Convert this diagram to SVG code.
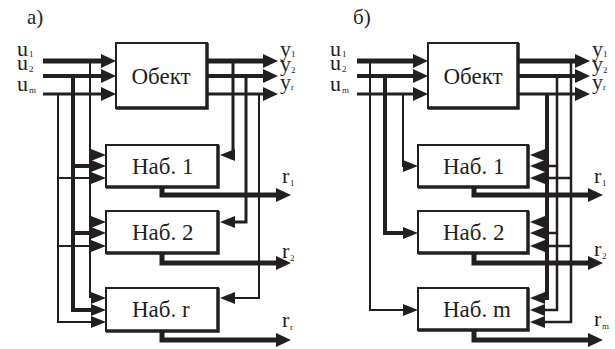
<svg xmlns="http://www.w3.org/2000/svg" width="615" height="349" viewBox="0 0 615 349">
<style>
.ln{fill:none;stroke:#231f20;stroke-linejoin:miter;stroke-linecap:butt}
.box{fill:#fff;stroke:#231f20;stroke-width:2}
.sh{fill:none;stroke:#231f20;stroke-width:3.5}
.ah{fill:#231f20}
text{font-family:'Liberation Serif','Times New Roman',serif;fill:#231f20}
.bt{font-size:23px}
.lb{font-size:22px}
.sb{font-size:9px}
.hd{font-size:21px}
</style>
<defs>
<path id="ar" class="ah" d="M0,0 L-15,-7 L-15,7 Z"/>
<path id="sr" class="ah" d="M0,0 L-15,-6 L-15,6 Z"/>
<path id="sl" class="ah" d="M0,0 L15,-6 L15,6 Z"/>
</defs>

<!-- ===== Diagram a ===== -->
<text id="a-title" class="hd" x="27" y="24">а)</text>

<g id="a-connectors">
  <path class="ln" stroke-width="5" d="M43,61 H102"/>
  <path class="ln" stroke-width="4" d="M43,76 H102"/>
  <path class="ln" stroke-width="3" d="M43,94 H102"/>
  <use href="#ar" x="116" y="61"/><use href="#ar" x="116" y="76"/><use href="#ar" x="116" y="94"/>
  <path class="ln" stroke-width="5" d="M207,61 H264"/>
  <path class="ln" stroke-width="4" d="M207,76 H264"/>
  <path class="ln" stroke-width="3" d="M207,94 H264"/>
  <use href="#ar" x="278" y="61"/><use href="#ar" x="278" y="76"/><use href="#ar" x="278" y="94"/>
  <path class="ln" stroke-width="2" d="M90,61 V298"/>
  <path class="ln" stroke-width="4" d="M73,76 V310 H92 M73,166 H92 M73,233 H92"/>
  <path class="ln" stroke-width="2" d="M58,94 V322 H92 M58,178 H92 M58,246 H92"/>
  <use href="#sr" x="106" y="155"/><use href="#sr" x="106" y="166"/><use href="#sr" x="106" y="178"/>
  <use href="#sr" x="106" y="222"/><use href="#sr" x="106" y="233"/><use href="#sr" x="106" y="246"/>
  <use href="#sr" x="106" y="298"/><use href="#sr" x="106" y="310"/><use href="#sr" x="106" y="322"/>
  <path class="ln" stroke-width="3" d="M233,61 V155 H234"/>
  <path class="ln" stroke-width="3" d="M246,76 V222 H234"/>
  <path class="ln" stroke-width="2" d="M259,94 V298 H234"/>
  <use href="#sl" x="220" y="155"/><use href="#sl" x="220" y="222"/><use href="#sl" x="220" y="298"/>
  <path class="ln" stroke-width="5" d="M162,187 V195 H277"/>
  <path class="ln" stroke-width="5" d="M162,253 V263 H277"/>
  <path class="ln" stroke-width="5" d="M162,331 V340 H277"/>
  <use href="#ar" x="291" y="195"/><use href="#ar" x="291" y="263"/><use href="#ar" x="291" y="340"/>
</g>

<g id="a-object">
  <rect class="box" x="116" y="43" width="91" height="65"/>
  <path class="sh" d="M207,43 V108 H116"/>
  <text class="bt" x="161" y="84" text-anchor="middle">Обект</text>
</g>
<g id="a-nab1">
  <rect class="box" x="106" y="145" width="112" height="42"/>
  <path class="sh" d="M218,145 V187 H106"/>
  <text class="bt" x="132" y="174">Наб. 1</text>
</g>
<g id="a-nab2">
  <rect class="box" x="106" y="211" width="112" height="42"/>
  <path class="sh" d="M218,211 V253 H106"/>
  <text class="bt" x="132" y="240">Наб. 2</text>
</g>
<g id="a-nabr">
  <rect class="box" x="106" y="288" width="112" height="43"/>
  <path class="sh" d="M218,288 V331 H106"/>
  <text class="bt" x="132" y="317">Наб. r</text>
</g>

<g id="a-labels">
  <text class="lb" x="17" y="56">u</text><text class="sb" x="29" y="57">1</text>
  <text class="lb" x="17" y="70">u</text><text class="sb" x="29" y="72">2</text>
  <text class="lb" x="17" y="91">u</text><text class="sb" x="29" y="93">m</text>
  <text class="lb" x="280" y="56">y</text><text class="sb" x="291" y="57">1</text>
  <text class="lb" x="280" y="71">y</text><text class="sb" x="291" y="73">2</text>
  <text class="lb" x="280" y="89">y</text><text class="sb" x="291" y="90">r</text>
  <text class="lb" x="282" y="183">r</text><text class="sb" x="290" y="186">1</text>
  <text class="lb" x="282" y="258">r</text><text class="sb" x="290" y="261">2</text>
  <text class="lb" x="282" y="327">r</text><text class="sb" x="290" y="330">r</text>
</g>

<!-- ===== Diagram b ===== -->
<text id="b-title" class="hd" x="353" y="24">б)</text>

<g id="b-connectors">
  <path class="ln" stroke-width="5" d="M357,61 H414"/>
  <path class="ln" stroke-width="4" d="M357,76 H414"/>
  <path class="ln" stroke-width="3" d="M357,94 H414"/>
  <use href="#ar" x="428" y="61"/><use href="#ar" x="428" y="76"/><use href="#ar" x="428" y="94"/>
  <path class="ln" stroke-width="5" d="M518,61 H576"/>
  <path class="ln" stroke-width="4" d="M518,76 H576"/>
  <path class="ln" stroke-width="3" d="M518,94 H576"/>
  <use href="#ar" x="590" y="61"/><use href="#ar" x="590" y="76"/><use href="#ar" x="590" y="94"/>
  <path class="ln" stroke-width="2" d="M370,61 V310 H404"/>
  <path class="ln" stroke-width="4" d="M385,76 V233 H404"/>
  <path class="ln" stroke-width="2" d="M403,94 V166 H404"/>
  <use href="#sr" x="418" y="166"/><use href="#sr" x="418" y="233"/><use href="#sr" x="418" y="310"/>
  <path class="ln" stroke-width="4" d="M547,94 V298 H544 M547,155 H544 M547,222 H544"/>
  <path class="ln" stroke-width="2.5" d="M557,76 V310 H544 M557,166 H544 M557,233 H544"/>
  <path class="ln" stroke-width="2.5" d="M571,61 V322 H544 M571,178 H544 M571,246 H544"/>
  <use href="#sl" x="530" y="155"/><use href="#sl" x="530" y="166"/><use href="#sl" x="530" y="178"/>
  <use href="#sl" x="530" y="222"/><use href="#sl" x="530" y="233"/><use href="#sl" x="530" y="246"/>
  <use href="#sl" x="530" y="298"/><use href="#sl" x="530" y="310"/><use href="#sl" x="530" y="322"/>
  <path class="ln" stroke-width="5" d="M474,187 V195 H589"/>
  <path class="ln" stroke-width="5" d="M474,253 V263 H589"/>
  <path class="ln" stroke-width="5" d="M474,330 V340 H589"/>
  <use href="#ar" x="603" y="195"/><use href="#ar" x="603" y="263"/><use href="#ar" x="603" y="340"/>
</g>

<g id="b-object">
  <rect class="box" x="428" y="43" width="90" height="65"/>
  <path class="sh" d="M518,43 V108 H428"/>
  <text class="bt" x="473" y="84" text-anchor="middle">Обект</text>
</g>
<g id="b-nab1">
  <rect class="box" x="418" y="145" width="110" height="42"/>
  <path class="sh" d="M528,145 V187 H418"/>
  <text class="bt" x="443" y="174">Наб. 1</text>
</g>
<g id="b-nab2">
  <rect class="box" x="418" y="211" width="110" height="42"/>
  <path class="sh" d="M528,211 V253 H418"/>
  <text class="bt" x="443" y="240">Наб. 2</text>
</g>
<g id="b-nabm">
  <rect class="box" x="418" y="288" width="110" height="42"/>
  <path class="sh" d="M528,288 V330 H418"/>
  <text class="bt" x="443" y="317">Наб. m</text>
</g>

<g id="b-labels">
  <text class="lb" x="330" y="56">u</text><text class="sb" x="342" y="57">1</text>
  <text class="lb" x="330" y="70">u</text><text class="sb" x="342" y="72">2</text>
  <text class="lb" x="330" y="91">u</text><text class="sb" x="342" y="93">m</text>
  <text class="lb" x="592" y="56">y</text><text class="sb" x="603" y="57">1</text>
  <text class="lb" x="592" y="71">y</text><text class="sb" x="603" y="73">2</text>
  <text class="lb" x="592" y="89">y</text><text class="sb" x="603" y="90">r</text>
  <text class="lb" x="594" y="183">r</text><text class="sb" x="602" y="186">1</text>
  <text class="lb" x="594" y="256">r</text><text class="sb" x="602" y="259">2</text>
  <text class="lb" x="594" y="326">r</text><text class="sb" x="602" y="329">m</text>
</g>
</svg>
